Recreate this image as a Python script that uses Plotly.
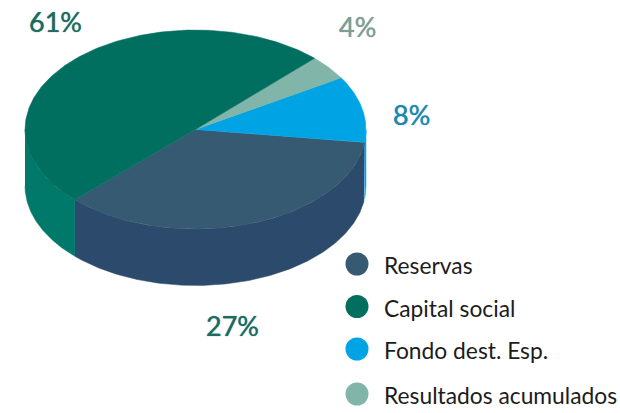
import numpy as np
import plotly.graph_objects as go

# Data
categories = ["Reservas", "Capital social", "Fondo dest. Esp.", "Resultados acumulados"]
percent_labels = ["27%", "61%", "8%", "4%"]
# Share of the drawn ellipse each slice occupies (percent of the turn)
drawn_share = [35.4, 49.8, 10.8, 4.0]
top_colors = ["#365a72", "#006f60", "#00a3e4", "#82b5a9"]
side_colors = ["#2c4a6b", "#00796b", "#00a3e4", "#82b5a9"]
label_colors = ["#1f6b60", "#1f6b60", "#2086ae", "#7f9d95"]
# Slices go round the pie in this order, counter-clockwise from the front left
ring_order = [0, 2, 3, 1]

# Layout
W, H = 620, 413
CX, CY, RX, RY, DEPTH = 195.5, 129.5, 170.5, 99.5, 56.5
START_DEG = -135.0
label_xy = [(232, 325), (55, 21), (357, 26), (411, 114)]
label_xy = [label_xy[0], label_xy[1], label_xy[3], label_xy[2]]
legend_y = [264, 306.5, 349, 394]
legend_dot_x, legend_text_x = 357, 382
FONT = "Lato"


def arc(t0, t1, dy=0.0, n=180):
    t = np.radians(np.linspace(t0, t1, n))
    return CX + RX * np.cos(t), CY - RY * np.sin(t) + dy


fig = go.Figure()
shares = [drawn_share[i] for i in ring_order]
edges = START_DEG + np.concatenate([[0], np.cumsum(shares) * 3.6])

# Side walls: only the front half (180..360 degrees) is visible
for i, a, b in zip(ring_order, edges[:-1], edges[1:]):
    for shift in (0, 360, -360):
        lo, hi = max(a + shift, 180), min(b + shift, 360)
        if lo < hi:
            xt, yt = arc(lo, hi)
            xb, yb = arc(hi, lo, DEPTH)
            fig.add_trace(go.Scatter(
                x=np.r_[xt, xb], y=np.r_[yt, yb], mode="lines", fill="toself",
                fillcolor=side_colors[i], line=dict(color=side_colors[i], width=0.5),
                hoverinfo="skip", showlegend=False))

# Top face
for i, a, b in zip(ring_order, edges[:-1], edges[1:]):
    xa, ya = arc(a, b)
    fig.add_trace(go.Scatter(
        x=np.r_[CX, xa, CX], y=np.r_[CY, ya, CY], mode="lines", fill="toself",
        fillcolor=top_colors[i], line=dict(color=top_colors[i], width=0.5),
        name=categories[i], hoverinfo="name", showlegend=False))

# Percent labels
for (x, y), text, c in zip(label_xy, percent_labels, label_colors):
    fig.add_annotation(x=x, y=y, text=text, showarrow=False, xanchor="center", yanchor="middle",
                       font=dict(family=FONT, size=27, color=c, shadow=f"0 0 1px {c}"))

# Legend
fig.add_trace(go.Scatter(
    x=[legend_dot_x] * 4, y=legend_y, mode="markers",
    marker=dict(size=23, color=top_colors, line=dict(width=0)),
    hoverinfo="skip", showlegend=False))
for y, text in zip(legend_y, categories):
    fig.add_annotation(x=legend_text_x, y=y + 1, text=text, showarrow=False, xanchor="left", yanchor="middle",
                       font=dict(family=FONT, size=22.8, color="#1c1c1c"))

fig.update_layout(
    width=W, height=H, margin=dict(l=0, r=0, t=0, b=0),
    paper_bgcolor="white", plot_bgcolor="white", showlegend=False,
    xaxis=dict(range=[0, W], visible=False, fixedrange=True),
    yaxis=dict(range=[H, 0], visible=False, fixedrange=True),
)
fig.write_html("out.html", config={"displayModeBar": False},
               post_script="document.body.style.margin='0';document.body.style.overflow='hidden';")
